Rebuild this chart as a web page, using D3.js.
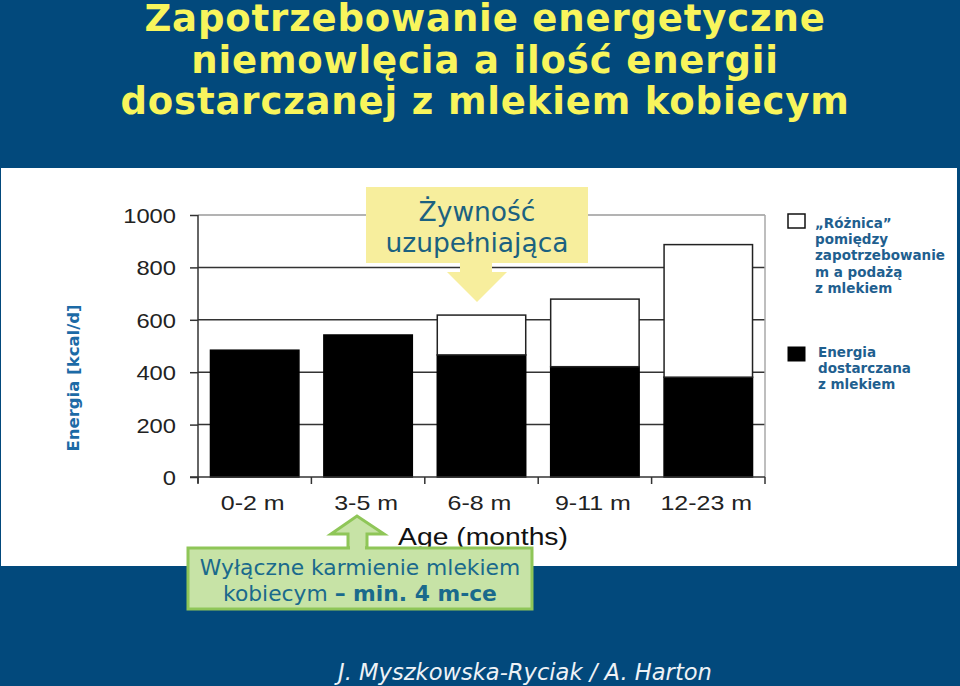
<!DOCTYPE html>
<html>
<head>
<meta charset="utf-8">
<script src="https://cdn.jsdelivr.net/npm/d3@7"></script>
<style>
  html, body { margin: 0; padding: 0; background: #02497c; }
  svg { display: block; }
</style>
</head>
<body>
<svg id="chart" width="960" height="686"></svg>
<script>
// ---- data ----
const categories = ["0-2 m", "3-5 m", "6-8 m", "9-11 m", "12-23 m"];
const milkEnergy = [484, 542, 466, 421, 381];      // Energia dostarczana z mlekiem
const gapEnergy  = [0, 0, 152, 258, 506];          // „Różnica” pomiędzy zapotrzebowaniem a podażą
const yTicks = [0, 200, 400, 600, 800, 1000];
const titleLines = ["Zapotrzebowanie energetyczne", "niemowlęcia a ilość energii", "dostarczanej z mlekiem kobiecym"];
const legendGap = ["„Różnica”", "pomiędzy", "zapotrzebowanie", "m a podażą", "z mlekiem"];
const legendMilk = ["Energia", "dostarczana", "z mlekiem"];

const svg = d3.select("#chart");
const BG = "#02497c";

svg.append("rect").attr("width", 960).attr("height", 686).attr("fill", BG);

// title
const title = svg.append("text")
  .attr("text-anchor", "middle")
  .attr("font-family", "DejaVu Sans")
  .attr("font-weight", "bold")
  .attr("font-size", 37)
  .attr("letter-spacing", 0.85)
  .attr("fill", "#f8f55c");
titleLines.forEach((t, i) => {
  title.append("tspan").attr("x", 485).attr("y", 31 + i * 41.5).text(t);
});

// white panel
svg.append("rect").attr("x", 1).attr("y", 168).attr("width", 956).attr("height", 398).attr("fill", "#ffffff");

// scales
const y = d3.scaleLinear().domain([0, 1000]).range([477, 215]);
const x = d3.scaleBand().domain(categories).range([198, 765]).paddingInner(0.22).paddingOuter(0.11);
const xEdge = d3.scaleLinear().domain([0, categories.length]).range([198, 765]);

const plot = svg.append("g");

// gridlines
plot.selectAll("line.grid").data(yTicks.filter(d => d > 0 && d < 1000)).enter().append("line")
  .attr("x1", 198).attr("x2", 765)
  .attr("y1", d => y(d)).attr("y2", d => y(d))
  .attr("stroke", "#333").attr("stroke-width", 1.5);
// top / right frame (gray)
plot.append("line").attr("x1", 198).attr("x2", 765).attr("y1", y(1000)).attr("y2", y(1000))
  .attr("stroke", "#9a9a9a").attr("stroke-width", 1.5);
plot.append("line").attr("x1", 765).attr("x2", 765).attr("y1", y(1000)).attr("y2", y(0))
  .attr("stroke", "#a8a8a8").attr("stroke-width", 1.5);

// bars: milk (black)
plot.selectAll("rect.milk").data(categories).enter().append("rect")
  .attr("x", d => x(d)).attr("width", x.bandwidth())
  .attr("y", (d, i) => y(milkEnergy[i]))
  .attr("height", (d, i) => y(0) - y(milkEnergy[i]))
  .attr("fill", "#000").attr("stroke", "#000").attr("stroke-width", 1.5);
// bars: gap (white)
plot.selectAll("rect.gap").data(categories.filter((d, i) => gapEnergy[i] > 0)).enter().append("rect")
  .attr("x", d => x(d)).attr("width", x.bandwidth())
  .attr("y", d => { const i = categories.indexOf(d); return y(milkEnergy[i] + gapEnergy[i]); })
  .attr("height", d => { const i = categories.indexOf(d); return y(milkEnergy[i]) - y(milkEnergy[i] + gapEnergy[i]); })
  .attr("fill", "#fff").attr("stroke", "#222").attr("stroke-width", 1.5);

// y axis
const yAxis = d3.axisLeft(y).tickValues(yTicks).tickSize(8).tickPadding(14).tickFormat(d3.format("d"));
const yg = plot.append("g").attr("transform", "translate(198,0)").call(yAxis);
yg.select(".domain").attr("d", `M0,${y(1000)}V${y(0) + 6}`).attr("stroke", "#333").attr("stroke-width", 1.5);
yg.selectAll(".tick line").attr("stroke", "#333").attr("stroke-width", 1.5);
yg.selectAll(".tick text").remove();
yg.selectAll(".tick").append("text")
  .attr("text-anchor", "end")
  .attr("transform", "translate(-22,0) scale(1.13,1)")
  .attr("dy", "0.36em")
  .attr("font-family", "Liberation Sans").attr("font-size", 21).attr("fill", "#222")
  .text(d => d3.format("d")(d));

// x axis line and boundary ticks
plot.append("line").attr("x1", 190).attr("x2", 765).attr("y1", y(0)).attr("y2", y(0))
  .attr("stroke", "#333").attr("stroke-width", 1.5);
plot.selectAll("line.xt").data(d3.range(categories.length + 1)).enter().append("line")
  .attr("x1", d => xEdge(d)).attr("x2", d => xEdge(d))
  .attr("y1", y(0)).attr("y2", y(0) + 7)
  .attr("stroke", "#333").attr("stroke-width", 1.5);
plot.selectAll("text.xl").data(categories).enter().append("text")
  .attr("transform", d => `translate(${x(d) + x.bandwidth() / 2 - 2},510) scale(1.19,1)`)
  .attr("text-anchor", "middle")
  .attr("font-family", "Liberation Sans").attr("font-size", 21).attr("fill", "#222")
  .text(d => d);

svg.append("text").attr("transform", "translate(483,545) scale(1.18,1)").attr("text-anchor", "middle")
  .attr("font-family", "Liberation Sans").attr("font-size", 24).attr("fill", "#111")
  .text("Age (months)");

// y axis title
svg.append("text")
  .attr("transform", "translate(79,378) rotate(-90)")
  .attr("text-anchor", "middle")
  .attr("font-family", "DejaVu Sans").attr("font-weight", "bold").attr("font-size", 16.5)
  .attr("fill", "#1c6aa6")
  .text("Energia [kcal/d]");

// legend
const legColor = "#1f5f8f";
svg.append("rect").attr("x", 788).attr("y", 214).attr("width", 17).attr("height", 14)
  .attr("fill", "#fff").attr("stroke", "#111").attr("stroke-width", 1.5);
const lg1 = svg.append("text").attr("font-family", "DejaVu Sans").attr("font-weight", "bold")
  .attr("font-size", 13.5).attr("fill", legColor);
legendGap.forEach((t, i) => lg1.append("tspan").attr("x", 815).attr("y", 228 + i * 16.2).text(t));
svg.append("rect").attr("x", 788).attr("y", 347).attr("width", 17).attr("height", 14)
  .attr("fill", "#000").attr("stroke", "#000");
const lg2 = svg.append("text").attr("font-family", "DejaVu Sans").attr("font-weight", "bold")
  .attr("font-size", 13.5).attr("fill", legColor);
legendMilk.forEach((t, i) => lg2.append("tspan").attr("x", 818).attr("y", 357 + i * 16).text(t));

// yellow callout
const yel = "#f7ee9d";
svg.append("rect").attr("x", 366).attr("y", 187).attr("width", 222).attr("height", 76).attr("fill", yel);
svg.append("path").attr("d", "M460,262 L492,262 L492,272 L507,272 L477,302 L447,272 L460,272 Z").attr("fill", yel);
const yt = svg.append("text").attr("text-anchor", "middle").attr("font-family", "DejaVu Sans")
  .attr("font-size", 26.5).attr("fill", "#1b6180");
yt.append("tspan").attr("x", 477).attr("y", 221).text("Żywność");
yt.append("tspan").attr("x", 477).attr("y", 252).text("uzupełniająca");

// green callout
const gFill = "#c7e3a6", gStroke = "#8fc658";
svg.append("path")
  .attr("d", "M348,548 L348,534 L331,534 L357,516 L384,534 L367,534 L367,548 Z")
  .attr("fill", gFill).attr("stroke", gStroke).attr("stroke-width", 3).attr("stroke-linejoin", "miter");
svg.append("rect").attr("x", 188).attr("y", 548).attr("width", 344).attr("height", 61)
  .attr("fill", gFill).attr("stroke", gStroke).attr("stroke-width", 3);
svg.append("rect").attr("x", 350).attr("y", 546).attr("width", 15).attr("height", 4).attr("fill", gFill);
const gt = svg.append("text").attr("text-anchor", "middle").attr("font-family", "DejaVu Sans")
  .attr("font-size", 21.8).attr("fill", "#1a6a8c");
gt.append("tspan").attr("x", 360).attr("y", 575).text("Wyłączne karmienie mlekiem");
const gl2 = gt.append("tspan").attr("x", 360).attr("y", 601);
gl2.append("tspan").text("kobiecym ");
gl2.append("tspan").attr("font-weight", "bold").text("– min. 4 m-ce");

// author
svg.append("text").attr("x", 525).attr("y", 680).attr("text-anchor", "middle")
  .attr("font-family", "DejaVu Sans").attr("font-style", "italic").attr("font-size", 22.6)
  .attr("fill", "#eef2f6")
  .text("J. Myszkowska-Ryciak / A. Harton");
</script>
</body>
</html>
